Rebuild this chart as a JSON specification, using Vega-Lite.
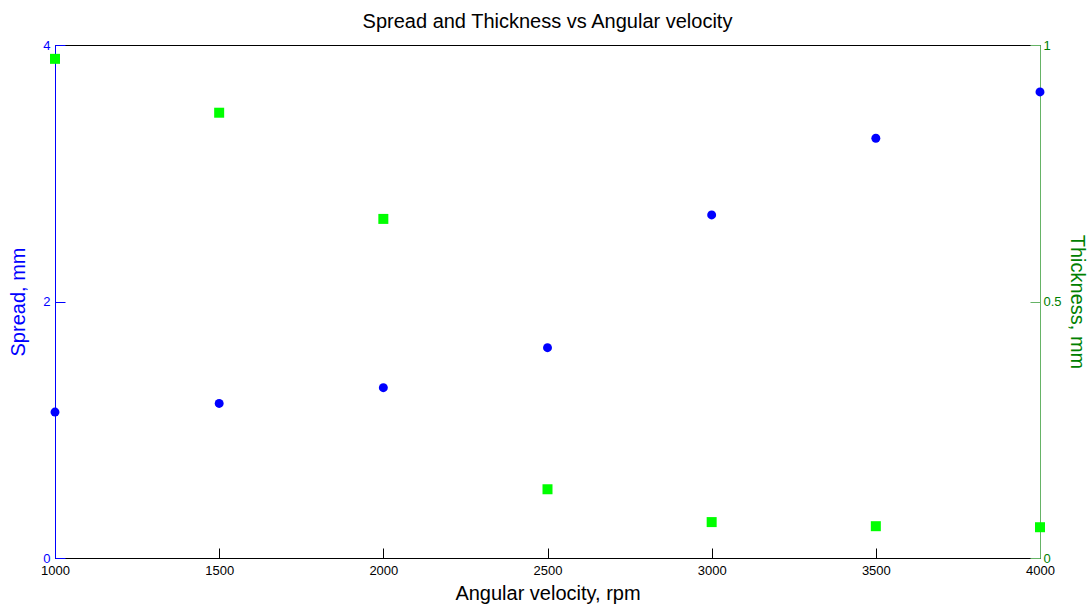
{
  "$schema": "https://vega.github.io/schema/vega-lite/v6.json",
  "width": 985,
  "height": 513,
  "autosize": "none",
  "padding": {"left": 55, "top": 45, "right": 51, "bottom": 49},
  "background": "white",
  "title": {
    "text": "Spread and Thickness vs Angular velocity",
    "font": "Liberation Sans",
    "fontSize": 20,
    "fontWeight": "normal",
    "color": "#000000",
    "anchor": "middle",
    "offset": 7
  },
  "config": {
    "view": {"stroke": "#000000", "strokeWidth": 1},
    "axis": {
      "grid": false,
      "labelFont": "Liberation Sans",
      "titleFont": "Liberation Sans",
      "labelFontSize": 13,
      "titleFontSize": 20,
      "titleFontWeight": "normal",
      "tickSize": -10,
      "tickWidth": 1,
      "domainWidth": 1,
      "labelFlush": false
    }
  },
  "data": {
    "values": [
      {"rpm": 1000, "spread": 1.138, "thickness": 0.973},
      {"rpm": 1500, "spread": 1.205, "thickness": 0.868},
      {"rpm": 2000, "spread": 1.328, "thickness": 0.661},
      {"rpm": 2500, "spread": 1.640, "thickness": 0.134},
      {"rpm": 3000, "spread": 2.675, "thickness": 0.070},
      {"rpm": 3500, "spread": 3.273, "thickness": 0.062},
      {"rpm": 4000, "spread": 3.634, "thickness": 0.060}
    ]
  },
  "encoding": {
    "x": {
      "field": "rpm",
      "type": "quantitative",
      "scale": {"domain": [1000, 4000], "nice": false, "zero": false},
      "axis": {
        "values": [1000, 1500, 2000, 2500, 3000, 3500, 4000],
        "format": "d",
        "title": "Angular velocity, rpm",
        "labelColor": "#000000",
        "titleColor": "#000000",
        "domainColor": "#000000",
        "tickColor": "#000000",
        "labelPadding": 16,
        "titlePadding": 6
      }
    }
  },
  "layer": [
    {
      "mark": {"type": "point", "shape": "circle", "filled": true, "size": 80, "color": "#0000ff", "opacity": 1},
      "encoding": {
        "y": {
          "field": "spread",
          "type": "quantitative",
          "scale": {"domain": [0, 4], "nice": false},
          "axis": {
            "orient": "left",
            "values": [0, 2, 4],
            "format": "d",
            "title": "Spread, mm",
            "titleColor": "#0000ff",
            "labelColor": "#0000ff",
            "domainColor": "#0000ff",
            "tickColor": "#0000ff",
            "labelPadding": 15,
            "titlePadding": 14
          }
        }
      }
    },
    {
      "mark": {"type": "point", "shape": "square", "filled": true, "size": 100, "color": "#00ff00", "opacity": 1},
      "encoding": {
        "y": {
          "field": "thickness",
          "type": "quantitative",
          "scale": {"domain": [0, 1], "nice": false},
          "axis": {
            "orient": "right",
            "values": [0, 0.5, 1],
            "format": ".1~f",
            "title": "Thickness, mm",
            "titleColor": "#008000",
            "labelColor": "#008000",
            "domainColor": "#66b366",
            "tickColor": "#66b366",
            "labelPadding": 13,
            "titlePadding": 5
          }
        }
      }
    }
  ],
  "resolve": {"scale": {"y": "independent"}}
}
